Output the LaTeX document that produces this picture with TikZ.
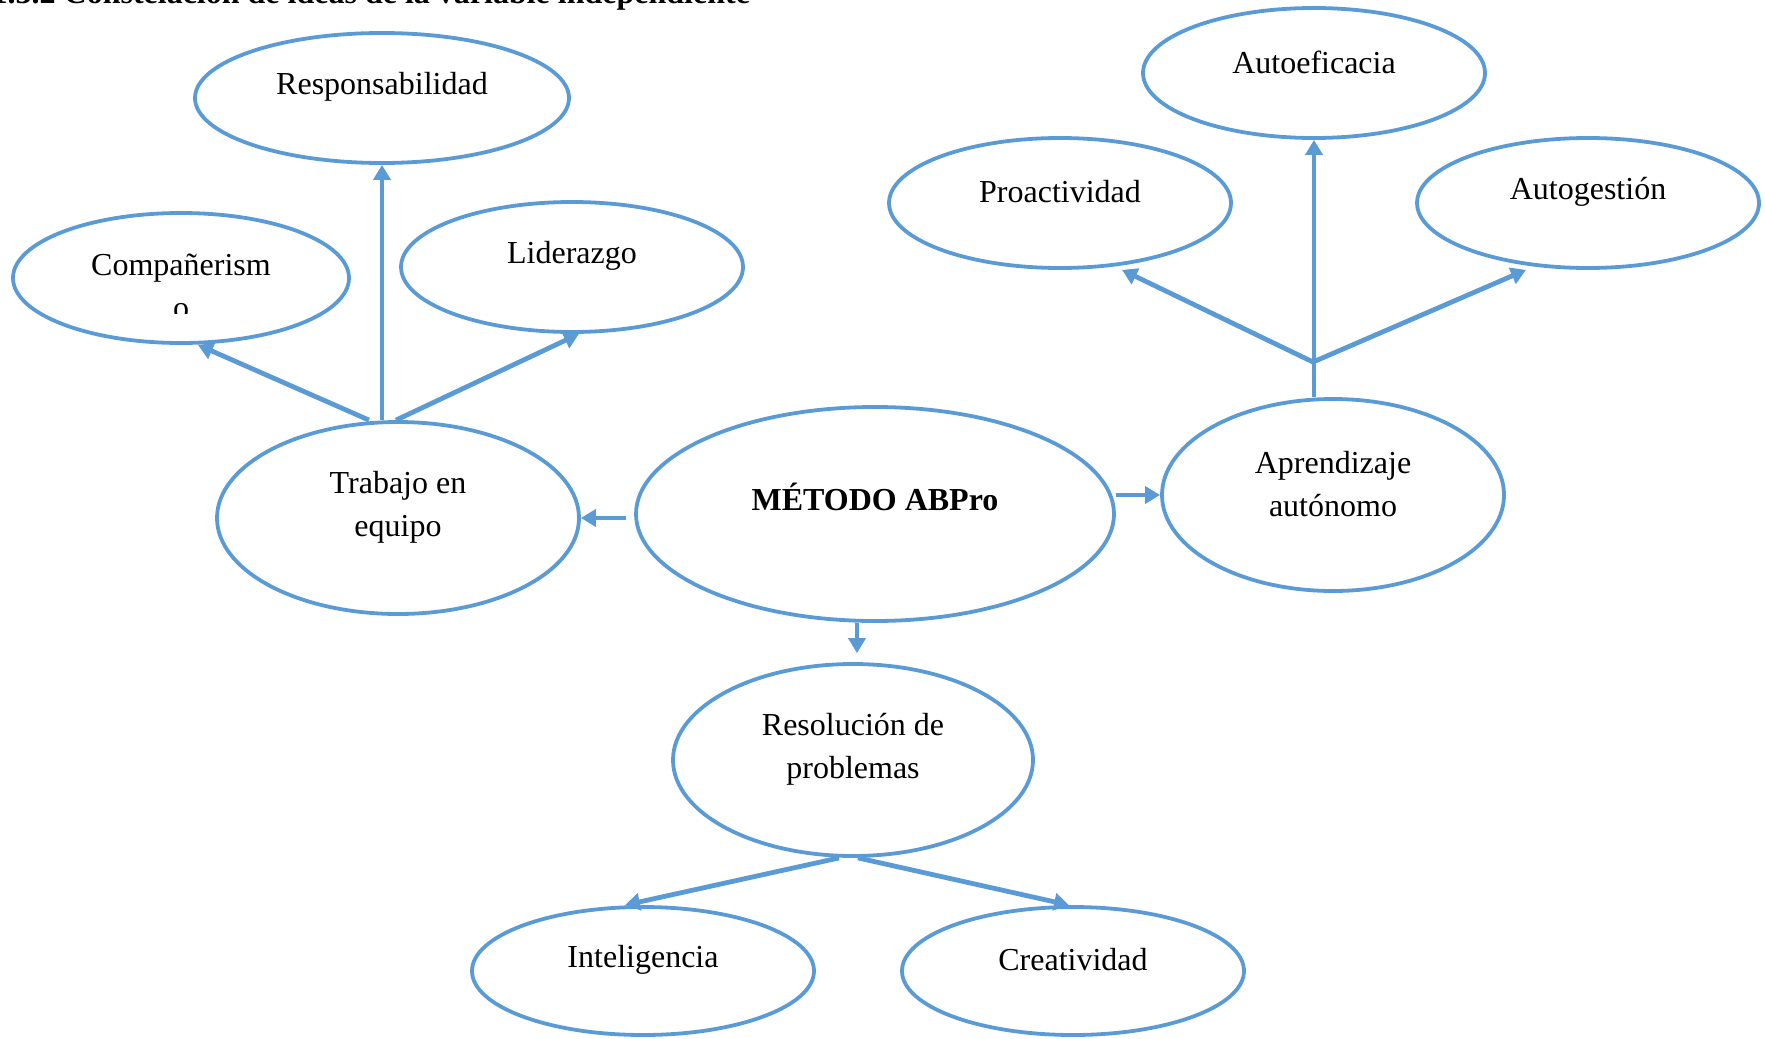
\documentclass[tikz,border=0pt]{standalone}
\usepackage{fontspec}
\setmainfont{Liberation Serif}
\usetikzlibrary{shapes.geometric,arrows.meta}
\definecolor{MapBlue}{HTML}{5B9BD5}
\definecolor{MapInk}{HTML}{000000}

\tikzset{
  bubble/.style={ellipse, draw=MapBlue, line width=1.9pt, inner sep=0pt},
  lbl/.style={text=MapInk, align=center, font=\fontsize{16pt}{21.5pt}\selectfont},
  link/.style={MapBlue, line width=2.4pt, -{Triangle[length=7.5pt,width=8.5pt]}},
}

\begin{document}
\begin{tikzpicture}[x=0.5pt,y=-0.5pt]
  \useasboundingbox (0,0) rectangle (1765,1038);
  \node[lbl, font=\fontsize{16pt}{21.5pt}\selectfont\bfseries, anchor=base east] (titulo) at (757,4) {1.3.2 Constelación de ideas de la variable independiente};
  % ellipses with one or two lines of text
  \foreach \name/\x/\y/\w/\h/\txt in {resp/382/98/187/65/Responsabilidad, lider/572/267/171/65/Liderazgo,
      trab/398/518/181/96/{Trabajo en\\equipo}, apren/1333/495/171/96/{Aprendizaje\\autónomo},
      autoef/1314/73/171/65/Autoeficacia, proac/1060/203/171/65/Proactividad, autog/1588/203/171/65/Autogestión,
      resol/853/760/180/96/{Resolución de\\problemas}, intel/643/971/171/64/Inteligencia, creat/1073/971/171/64/Creatividad} {
    \node[bubble, minimum width=\w pt, minimum height=\h pt, label={[lbl, yshift=5.5pt]center:\txt}] (\name) at (\x,\y) {};
  }
  \node[bubble, minimum width=239pt, minimum height=107pt, label={[lbl, font=\fontsize{16pt}{21.5pt}\selectfont\bfseries, yshift=8.5pt]center:MÉTODO ABPro}] (metodo) at (875,514) {};
  \node[bubble, minimum width=168pt, minimum height=65pt] (comp) at (181,278) {};
  \begin{scope}
    \clip (0,0) rectangle (400,313);
    \node[lbl, anchor=base] (comp1) at (181,275) {Compañerism};
    \node[lbl, anchor=base] (comp2) at (181,318) {o};
  \end{scope}
  % connectors
  \coordinate (hub) at (1313,362);
  \draw[link] ([xshift=-4pt]metodo.west |- trab.east) -- (trab.east);
  \draw[link] (metodo.east |- apren.west) -- (apren.west);
  \draw[link] ([xshift=2pt]metodo.south -| resol.north) -- ([xshift=2pt,yshift=4.5pt]resol.north);
  \draw[link] (trab.north -| resp.south) -- (resp.south);
  \draw[link] ([xshift=-14.5pt]trab.north) -- ([xshift=8.5pt]comp.south);
  \draw[link] ([xshift=-1pt]trab.north) -- ([xshift=3.5pt]lider.south);
  \draw[link] (apren.north -| autoef.south) -- (autoef.south);
  \draw[link] (hub) -- ([xshift=31pt]proac.south);
  \draw[link] (hub) -- ([xshift=-31pt]autog.south);
  \draw[link] ([xshift=-7pt]resol.south) -- ([xshift=-9pt]intel.north);
  \draw[link] ([xshift=2.5pt]resol.south) -- ([xshift=-2pt]creat.north);
\end{tikzpicture}
\end{document}
